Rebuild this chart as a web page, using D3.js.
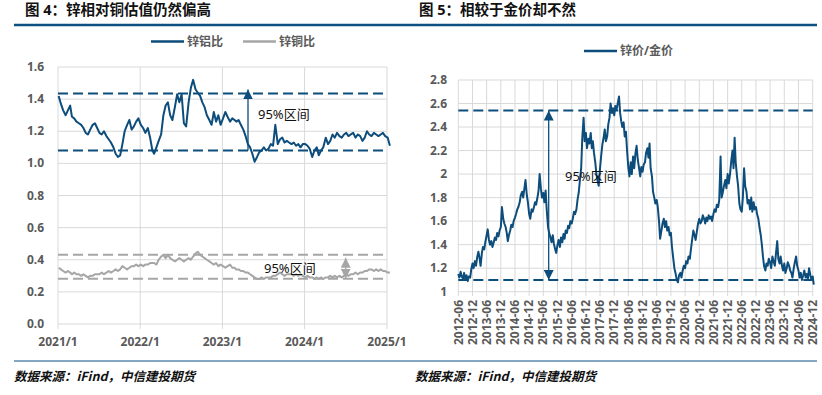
<!DOCTYPE html>
<html>
<head>
<meta charset="utf-8">
<script src="https://cdn.jsdelivr.net/npm/d3@7/dist/d3.min.js"></script>
<style>
body{margin:0;background:#fff;}
svg text{font-family:"Noto Sans","Noto Sans CJK SC",sans-serif;}
</style>
</head>
<body>
<script>
// 锌铝比，每月三个读数，2021/1 起
var zinkAlu=[
1.42,1.37,1.33, 1.30,1.33,1.36, 1.29,1.28,1.26, 1.25,1.24,1.22, 1.19,1.18,1.21, 1.24,1.25,1.22,
1.19,1.18,1.20, 1.17,1.15,1.13, 1.10,1.06,1.04, 1.05,1.12,1.20, 1.24,1.27,1.21, 1.23,1.26,1.28,
1.24,1.22,1.19, 1.22,1.16,1.08, 1.06,1.10,1.14, 1.18,1.30,1.36, 1.38,1.30,1.27, 1.35,1.43,1.38,
1.43,1.25,1.23, 1.38,1.47,1.52, 1.46,1.44,1.42, 1.38,1.35,1.30, 1.27,1.24,1.32, 1.26,1.30,1.24,
1.28,1.32,1.29, 1.26,1.28,1.27, 1.26,1.27,1.24, 1.21,1.17,1.12, 1.10,1.06,1.01, 1.04,1.07,1.08,
1.10,1.08,1.09, 1.12,1.11,1.24, 1.12,1.15,1.16, 1.13,1.14,1.13, 1.12,1.13,1.11, 1.12,1.10,1.12,
1.12,1.11,1.09, 1.04,1.08,1.10, 1.05,1.08,1.10, 1.16,1.12,1.14, 1.18,1.16,1.19, 1.17,1.16,1.18,
1.19,1.17,1.18, 1.19,1.16,1.18, 1.17,1.14,1.16, 1.20,1.18,1.17, 1.19,1.18,1.17, 1.18,1.19,1.17,
1.16,1.11
];
// 锌铜比
var zinkCu=[
0.35,0.34,0.33, 0.32,0.33,0.32, 0.31,0.32,0.31, 0.31,0.30,0.31, 0.30,0.29,0.30, 0.30,0.31,0.31,
0.31,0.32,0.31, 0.32,0.33,0.32, 0.33,0.34,0.33, 0.34,0.36,0.35, 0.34,0.35,0.36, 0.36,0.37,0.36,
0.37,0.36,0.37, 0.37,0.38,0.38, 0.38,0.37,0.40, 0.42,0.43,0.41, 0.43,0.41,0.40, 0.39,0.40,0.41,
0.40,0.39,0.40, 0.41,0.40,0.42, 0.44,0.45,0.43, 0.42,0.41,0.40, 0.39,0.38,0.37, 0.38,0.36,0.37,
0.36,0.35,0.36, 0.37,0.35,0.35, 0.34,0.34,0.33, 0.33,0.32,0.32, 0.31,0.30,0.29, 0.28,0.28,0.29,
0.28,0.29,0.29, 0.29,0.30,0.30, 0.31,0.32,0.31, 0.30,0.31,0.31, 0.31,0.30,0.31, 0.30,0.31,0.30,
0.29,0.30,0.29, 0.29,0.28,0.29, 0.28,0.29,0.28, 0.29,0.29,0.30, 0.29,0.30,0.29, 0.30,0.29,0.30,
0.31,0.30,0.31, 0.31,0.32,0.31, 0.32,0.32,0.33, 0.33,0.34,0.34, 0.33,0.34,0.33, 0.34,0.33,0.33,
0.32,0.32
];
// 锌价/金价，每月两个读数，2012-06 起
var zinkGold=[
1.15,1.12, 1.17,1.13, 1.11,1.16, 1.10,1.14, 1.09,1.13, 1.12,1.19, 1.24,1.20,
1.26,1.22, 1.30,1.34, 1.29,1.22, 1.33,1.38, 1.36,1.42, 1.48,1.53, 1.44,1.40, 1.43,1.38, 1.42,1.46, 1.44,1.50, 1.47,1.52, 1.55,1.72,
1.62,1.58, 1.55,1.50, 1.43,1.48, 1.52,1.57, 1.55,1.60, 1.63,1.66, 1.70,1.72, 1.76,1.82, 1.85,1.80, 1.88,1.95, 1.82,1.76, 1.66,1.62,
1.70,1.68, 1.72,1.76, 1.74,1.79, 1.86,2.00, 1.88,1.80, 1.84,1.76, 1.86,1.70, 1.55,1.50, 1.46,1.42, 1.48,1.41, 1.36,1.33, 1.40,1.44,
1.38,1.46, 1.42,1.49, 1.45,1.52, 1.50,1.56, 1.54,1.60, 1.58,1.62, 1.68,1.66, 1.70,1.78, 1.85,1.95, 2.05,2.30, 2.48,2.28, 2.35,2.22,
2.30,2.26, 2.35,2.22, 2.28,2.18, 2.10,2.00, 1.94,1.90, 2.05,2.15, 2.25,2.30, 2.38,2.28, 2.32,2.42, 2.48,2.60, 2.52,2.56, 2.50,2.58,
2.55,2.60, 2.66,2.52, 2.45,2.40, 2.44,2.32, 2.36,2.20, 2.05,1.98, 2.10,2.00, 2.15,2.05, 2.18,2.24, 2.12,2.06, 1.98,2.06, 2.02,2.08,
2.10,2.18, 2.22,2.14, 2.26,2.05, 1.98,1.85, 1.80,1.75, 1.78,1.72, 1.60,1.45, 1.52,1.58, 1.62,1.55, 1.60,1.52, 1.55,1.48, 1.50,1.38,
1.28,1.20, 1.15,1.10, 1.08,1.14, 1.16,1.12, 1.18,1.22, 1.20,1.26, 1.24,1.30, 1.28,1.36, 1.45,1.52, 1.48,1.44, 1.52,1.58, 1.62,1.58,
1.60,1.65, 1.62,1.58, 1.63,1.60, 1.65,1.62, 1.64,1.60, 1.66,1.70, 1.68,1.74, 1.72,1.78, 2.15,1.80, 1.85,1.90, 1.95,1.88, 2.00,1.92,
2.00,2.10, 2.20,2.05, 2.31,2.10, 1.98,1.90, 1.75,1.70, 1.68,1.80, 2.05,1.90, 1.85,1.75, 1.78,1.70, 1.80,1.68, 1.76,1.70, 1.72,1.66,
1.62,1.55, 1.48,1.40, 1.30,1.22, 1.18,1.24, 1.22,1.28, 1.25,1.20, 1.30,1.26, 1.22,1.32, 1.43,1.28, 1.24,1.30, 1.22,1.18, 1.24,1.16,
1.20,1.25, 1.22,1.18, 1.16,1.12, 1.20,1.25, 1.30,1.22, 1.18,1.12, 1.16,1.10, 1.14,1.18, 1.12,1.15, 1.11,1.20, 1.14,1.10, 1.13,1.06
];
var leftYTicks=[0,0.2,0.4,0.6,0.8,1.0,1.2,1.4,1.6];
var rightYTicks=[1,1.2,1.4,1.6,1.8,2,2.2,2.4,2.6,2.8];
var aluBand=[1.08,1.435];
var cuBand=[0.282,0.431];
var goldBand=[1.10,2.54];
var titles=["图 4：锌相对铜估值仍然偏高","图 5：相较于金价却不然"];
var source="数据来源：iFind，中信建投期货";

var blue="#0d4d7c", grey="#a6a6a6", gridCol="#d9d9d9", tickCol="#595959";

var svg=d3.select("body").append("svg").attr("width",822).attr("height",395);
var defs=svg.append("defs");
function arrowMarker(id,col)
{
	defs.append("marker").attr("id",id)
		.attr("viewBox","0 0 10 10").attr("refX",10).attr("refY",5)
		.attr("markerUnits","userSpaceOnUse")
		.attr("markerWidth",10).attr("markerHeight",10)
		.attr("orient","auto-start-reverse")
		.append("path").attr("d","M0,0L10,5L0,10z").attr("fill",col);
}
arrowMarker("arrB",blue);
arrowMarker("arrG",grey);

// 标题、上下分隔线、来源
[[14,410,25],[410,817,419]].forEach(function(p,i){
	svg.append("text").attr("x",p[2]).attr("y",15).text(titles[i])
		.style("font-size","14.5px").style("font-weight","bold").attr("fill","#111");
	svg.append("line").attr("x1",p[0]).attr("x2",p[1]).attr("y1",25).attr("y2",25)
		.attr("stroke","#0b4f80").attr("stroke-width",2.5);
	svg.append("line").attr("x1",p[0]).attr("x2",p[1]).attr("y1",361).attr("y2",361)
		.attr("stroke","#0b4f80").attr("stroke-width",1);
	svg.append("text").attr("x",p[0]+ (i==0?0:5)).attr("y",381).text(source)
		.style("font-size","12.5px").style("font-weight","bold").style("font-style","italic")
		.style("font-family","'Noto Sans CJK SC',serif").attr("fill","#111");
});

function legendItem(x,y,col,label)
{
	svg.append("line").attr("x1",x).attr("x2",x+33).attr("y1",y).attr("y2",y)
		.attr("stroke",col).attr("stroke-width",2.5);
	svg.append("text").attr("x",x+36).attr("y",y+4).text(label)
		.style("font-size","12px").style("font-weight","bold").attr("fill",tickCol);
}

//------ 左图 ------
var xL=d3.scaleTime().domain([new Date(2021,0,1),new Date(2025,0,1)]).range([58,387]);
var yL=d3.scaleLinear().domain([0,1.6]).range([324,67]);
var leftYears=d3.timeYear.range(new Date(2021,0,1),new Date(2025,0,2));
var gL=svg.append("g");
gL.selectAll(".hg").data(leftYTicks).enter().append("line")
	.attr("x1",58).attr("x2",387).attr("y1",yL).attr("y2",yL)
	.attr("stroke",gridCol).attr("stroke-width",1);
gL.selectAll(".vg").data(leftYears).enter().append("line")
	.attr("x1",xL).attr("x2",xL).attr("y1",67).attr("y2",329)
	.attr("stroke",gridCol).attr("stroke-width",1);
gL.selectAll(".yl").data(leftYTicks).enter().append("text")
	.attr("x",44).attr("y",function(d){return yL(d)+4;})
	.attr("text-anchor","end").text(d3.format(".1f"))
	.style("font-size","12px").style("font-weight","bold").attr("fill",tickCol);
gL.selectAll(".xl").data(leftYears).enter().append("text")
	.attr("x",xL).attr("y",346).attr("text-anchor","middle")
	.text(d3.timeFormat("%Y/%-m"))
	.style("font-size","12px").style("font-weight","bold").attr("fill",tickCol);

function leftDate(i){return new Date(2021,Math.floor(i/3),4+(i%3)*10);}
var lineL=d3.line().x(function(d,i){return xL(leftDate(i));}).y(function(d){return yL(d);});

// 95% 区间虚线
[[aluBand,blue],[cuBand,grey]].forEach(function(b){
	gL.selectAll(null).data(b[0]).enter().append("line")
		.attr("x1",58).attr("x2",387).attr("y1",yL).attr("y2",yL)
		.attr("stroke",b[1]).attr("stroke-width",2).attr("stroke-dasharray","10,5");
});
gL.append("path").datum(zinkCu).attr("d",lineL).attr("fill","none")
	.attr("stroke",grey).attr("stroke-width",2).attr("stroke-linejoin","round");
gL.append("path").datum(zinkAlu).attr("d",lineL).attr("fill","none")
	.attr("stroke",blue).attr("stroke-width",2).attr("stroke-linejoin","round");

gL.append("line").attr("x1",248).attr("x2",248)
	.attr("y1",yL(aluBand[0])).attr("y2",yL(1.46))
	.attr("stroke",blue).attr("stroke-width",1.3).attr("marker-end","url(#arrB)");
gL.append("text").attr("x",258).attr("y",119).text("95%区间")
	.style("font-size","13px").attr("fill","#111");
gL.append("line").attr("x1",345.7).attr("x2",345.7)
	.attr("y1",yL(cuBand[1])+3).attr("y2",yL(cuBand[0]))
	.attr("stroke",grey).attr("stroke-width",1.3)
	.attr("marker-start","url(#arrG)").attr("marker-end","url(#arrG)");
gL.append("text").attr("x",264).attr("y",273).text("95%区间")
	.style("font-size","13px").attr("fill","#111");

legendItem(151,41.5,blue,"锌铝比");
legendItem(243,41.5,grey,"锌铜比");

//------ 右图 ------
var xR=d3.scaleTime().domain([new Date(2012,5,1),new Date(2024,11,1)]).range([458.3,812.7]);
var yR=d3.scaleLinear().domain([1,2.8]).range([291.7,80]);
var halfYears=d3.timeMonth.range(new Date(2012,5,1),new Date(2024,11,2),6);
var gR=svg.append("g");
gR.selectAll(".hg").data(rightYTicks).enter().append("line")
	.attr("x1",458.3).attr("x2",812.7).attr("y1",yR).attr("y2",yR)
	.attr("stroke",gridCol).attr("stroke-width",1);
gR.selectAll(".vg").data(halfYears).enter().append("line")
	.attr("x1",xR).attr("x2",xR).attr("y1",80).attr("y2",296)
	.attr("stroke",gridCol).attr("stroke-width",1);
gR.selectAll(".yl").data(rightYTicks).enter().append("text")
	.attr("x",447).attr("y",function(d){return yR(d)+4;})
	.attr("text-anchor","end").text(function(d){return String(+d.toFixed(1));})
	.style("font-size","12px").style("font-weight","bold").attr("fill",tickCol);
gR.selectAll(".xl").data(halfYears).enter().append("text")
	.attr("transform",function(d){return "translate("+xR(d)+",300) rotate(-90)";})
	.attr("dy","0.35em").attr("text-anchor","end")
	.text(d3.timeFormat("%Y-%m"))
	.style("font-size","12px").style("font-weight","bold").attr("fill",tickCol);

function rightDate(i){return new Date(2012,5+Math.floor(i/2),1+(i%2)*14);}
var lineR=d3.line().x(function(d,i){return xR(rightDate(i));}).y(function(d){return yR(d);});

gR.selectAll(null).data(goldBand).enter().append("line")
	.attr("x1",458.3).attr("x2",812.7).attr("y1",yR).attr("y2",yR)
	.attr("stroke",blue).attr("stroke-width",2).attr("stroke-dasharray","10,5");
gR.append("path").datum(zinkGold).attr("d",lineR).attr("fill","none")
	.attr("stroke",blue).attr("stroke-width",2).attr("stroke-linejoin","round");
gR.append("line").attr("x1",548.7).attr("x2",548.7)
	.attr("y1",yR(goldBand[1])).attr("y2",yR(goldBand[0]))
	.attr("stroke",blue).attr("stroke-width",1.3)
	.attr("marker-start","url(#arrB)").attr("marker-end","url(#arrB)");
gR.append("text").attr("x",565).attr("y",181).text("95%区间")
	.style("font-size","13px").attr("fill","#111");

legendItem(584,51,blue,"锌价/金价");
</script>
</body>
</html>
